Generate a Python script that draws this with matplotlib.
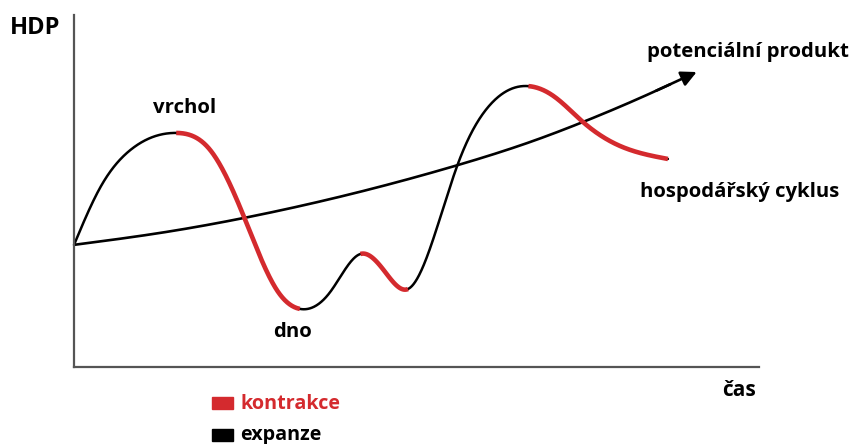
import numpy as np
import matplotlib
matplotlib.use("Agg")
import matplotlib.pyplot as plt
from matplotlib.patches import FancyArrowPatch, Rectangle

plt.rcParams['font.family'] = ['Open Sans', 'DejaVu Sans']

# ---- data (abstract units: time 0..100, HDP 0..100) ----
cycle_t = [0.0, 3.8, 8.2, 14.9, 19.9, 24.7, 29.6, 33.0, 37.4, 41.8, 45.3, 48.8,
           52.4, 56.1, 60.7, 66.3, 70.2, 74.3, 79.7, 86.7]
cycle_h = [34.7, 50.9, 61.6, 66.5, 61.6, 43.2, 21.9, 16.5, 21.3, 32.1, 27.3, 22.2,
           36.1, 58.0, 74.4, 79.8, 76.7, 69.6, 62.8, 59.1]
# contraction phases (time from, time to)
contraction = [(14.9, 33.0), (41.8, 48.8), (66.3, 86.7)]

potential_t = [0.0, 12.6, 24.7, 41.8, 56.1, 67.0, 74.3, 82.6, 90.9]
potential_h = [34.7, 38.1, 42.3, 49.8, 57.4, 64.2, 69.6, 76.4, 83.8]

RED = '#d42a2e'
AXIS = '#555555'


def spline(xk, yk, n=1000):
    """Natural cubic spline through the knots."""
    x = np.asarray(xk, float)
    y = np.asarray(yk, float)
    m = len(x)
    h = np.diff(x)
    A = np.zeros((m, m))
    r = np.zeros(m)
    A[0, 0] = A[-1, -1] = 1.0
    for i in range(1, m - 1):
        A[i, i - 1] = h[i - 1]
        A[i, i] = 2 * (h[i - 1] + h[i])
        A[i, i + 1] = h[i]
        r[i] = 6 * ((y[i + 1] - y[i]) / h[i] - (y[i] - y[i - 1]) / h[i - 1])
    M = np.linalg.solve(A, r)
    xs = np.linspace(x[0], x[-1], n)
    i = np.clip(np.searchsorted(x, xs) - 1, 0, m - 2)
    a = x[i + 1] - xs
    b = xs - x[i]
    hi = h[i]
    ys = (M[i] * a**3 + M[i + 1] * b**3) / (6 * hi) \
        + (y[i] / hi - M[i] * hi / 6) * a + (y[i + 1] / hi - M[i + 1] * hi / 6) * b
    return xs, ys


fig = plt.figure(figsize=(8.52, 4.44), dpi=100)
W, H = 852, 444
ax = fig.add_axes([74 / W, (H - 367) / H, 685 / W, 352 / H])
ax.set_xlim(0, 100)
ax.set_ylim(0, 100)
for s in ['top', 'right']:
    ax.spines[s].set_visible(False)
for s in ['left', 'bottom']:
    ax.spines[s].set_color(AXIS)
    ax.spines[s].set_linewidth(1.6)
ax.set_xticks([])
ax.set_yticks([])

# potential output line with arrow
px, py = spline(potential_t, potential_h, n=600)
ax.plot(px[:-25], py[:-25], color='black', lw=1.9, solid_capstyle='butt', clip_on=False)
arr = FancyArrowPatch((px[-40], py[-40]), (px[-1], py[-1]), arrowstyle='-|>', mutation_scale=23,
                      color='black', lw=1.9, shrinkA=0, shrinkB=0, clip_on=False)
ax.add_patch(arr)

# business cycle
cx, cy = spline(cycle_t, cycle_h, n=1500)
ax.plot(cx, cy, color='black', lw=1.8, solid_capstyle='round', clip_on=False)
for a, b in contraction:
    m = (cx >= a) & (cx <= b)
    ax.plot(cx[m], cy[m], color=RED, lw=3.3, solid_capstyle='butt', clip_on=False)

# texts
def ftext(x, y, s, size, **kw):
    fig.text(x / W, 1 - y / H, s, fontsize=size, fontweight='bold', va='center', **kw)

ftext(10, 28, 'HDP', 17)
ftext(153, 108, 'vrchol', 14.7)
ftext(273, 332, 'dno', 14.7)
ftext(647, 52, 'potenciální produkt', 14.7)
ftext(640, 192, 'hospodářský cyklus', 14.6)
ftext(722, 390, 'čas', 15)

# legend
fig.patches.append(Rectangle((212 / W, 1 - 409 / H), 21 / W, 12 / H, transform=fig.transFigure,
                             color=RED, figure=fig))
fig.patches.append(Rectangle((212 / W, 1 - 441 / H), 21 / W, 12 / H, transform=fig.transFigure,
                             color='black', figure=fig))
ftext(240, 404, 'kontrakce', 14.2, color=RED)
ftext(240, 435, 'expanze', 14.2, color='black')

fig.savefig('out.png', dpi=100)
